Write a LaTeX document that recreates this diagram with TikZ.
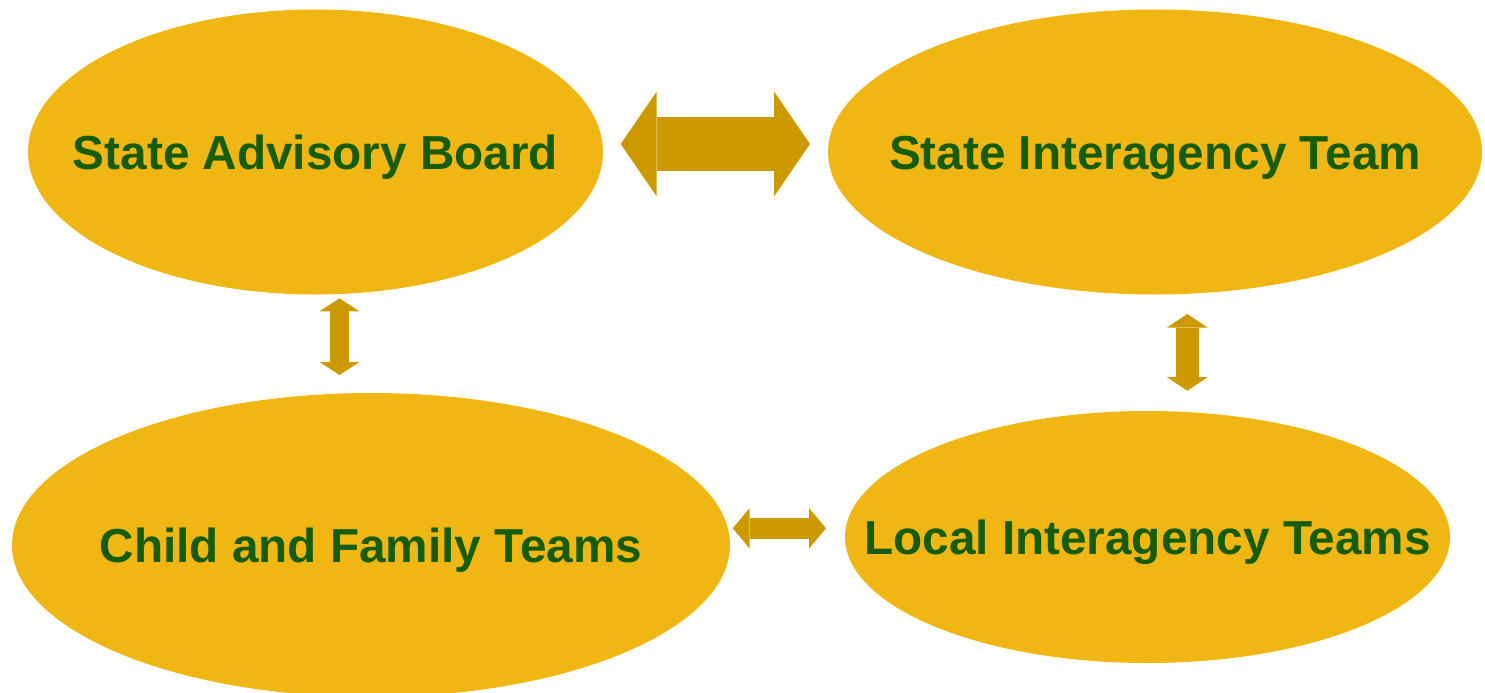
\documentclass[tikz,border=0pt]{standalone}
\usepackage{fontspec}
\setmainfont{Liberation Sans}
\usetikzlibrary{shapes.geometric,arrows.meta}
\definecolor{gold}{HTML}{F0B714}
\definecolor{arrowgold}{HTML}{CC9900}
\definecolor{darkgreen}{HTML}{155C0B}

\tikzset{
  blob/.style={ellipse,fill=gold,inner sep=0pt},
  lbl/.style={text=darkgreen,font=\fontsize{47.7pt}{50pt}\selectfont\bfseries,
    inner sep=0pt,text height=34pt,text depth=0pt},
  twoway/.style n args={3}{color=arrowgold,line width=#1,
    arrows={Triangle[length=#2,width=#3,line width=0pt]-Triangle[length=#2,width=#3,line width=0pt]}},
}

\begin{document}
\begin{tikzpicture}[x=1pt,y=-1pt]
    \useasboundingbox (0,0) rectangle (1485,693);
    \clip (0,0) rectangle (1485,693);
    \node[blob,minimum width=575pt,minimum height=285pt](sab) at (315.5,152) {};
    \node[blob,minimum width=654pt,minimum height=285pt](sit) at (1155,152) {};
    \node[blob,minimum width=718pt,minimum height=304pt](cft) at (371,545) {};
    \node[blob,minimum width=605pt,minimum height=252pt](lit) at (1147.5,537) {};
    \node[lbl](sab text) at (sab) {State Advisory Board};
    \node[lbl](sit text) at (sit) {State Interagency Team};
    \node[lbl](cft text) at (cft) {Child and Family Teams};
    \node[lbl](lit text) at (lit) {Local Interagency Teams};
    \coordinate (top l) at (620.7,144);
    \coordinate (top r) at (810,144);
    \coordinate (left t) at (339.5,298.3);
    \coordinate (left b) at (339.5,375);
    \coordinate (right t) at (1187.3,314);
    \coordinate (right b) at (1187.3,390.7);
    \coordinate (bot l) at (732.7,528.3);
    \coordinate (bot r) at (826,528.3);
    \draw[twoway={53.4pt}{36pt}{105pt}] (top l) -- (top r);
    \draw[twoway={19.3pt}{13pt}{40pt}] (left t) -- (left b);
    \draw[twoway={22.7pt}{13.5pt}{40.6pt}] (right t) -- (right b);
    \draw[twoway={20.7pt}{17pt}{40.6pt}] (bot l) -- (bot r);
  \end{tikzpicture}
\end{document}
